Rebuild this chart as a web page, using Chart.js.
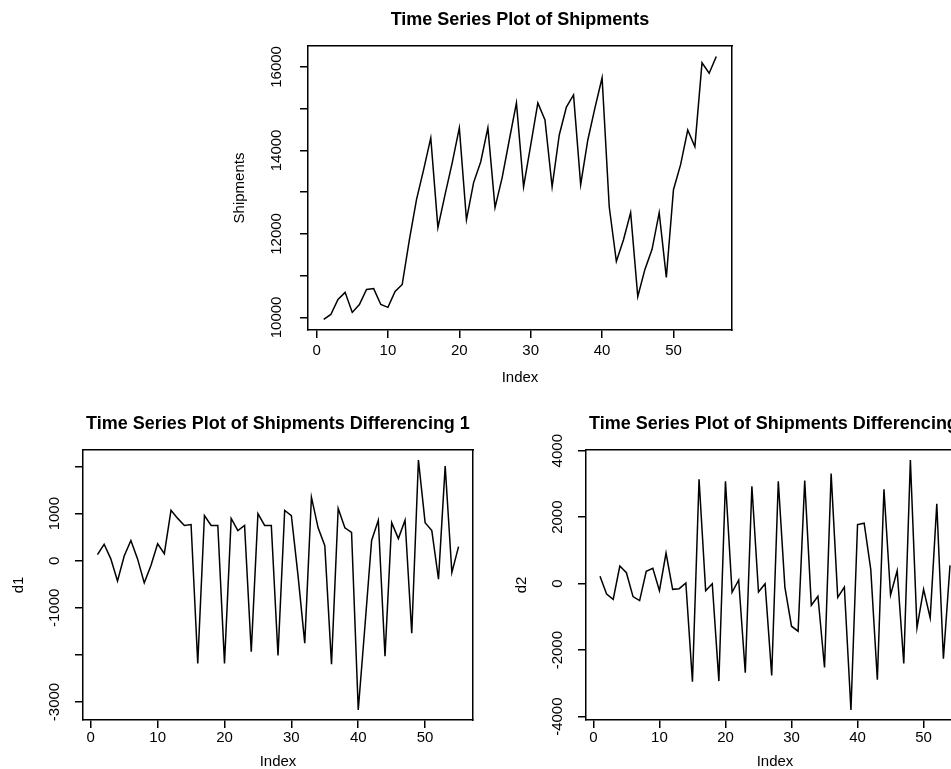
<!DOCTYPE html>
<html>
<head>
<meta charset="utf-8">
<script src="https://cdn.jsdelivr.net/npm/chart.js@4"></script>
<style>
  html, body { margin: 0; padding: 0; background: #fff; overflow: hidden; width: 951px; height: 769px; }
  #page { position: relative; width: 1100px; height: 769px; }
  canvas { position: absolute; }
</style>
</head>
<body>
<div id="page">
  <canvas id="chart-top" width="640" height="400" style="left:200px;top:0px"></canvas>
  <canvas id="chart-d1" width="556" height="380" style="left:0px;top:400px"></canvas>
  <canvas id="chart-d2" width="556" height="380" style="left:503px;top:400px"></canvas>
</div>
<script>
// Data

const seriesName = "Shipments"

const shipments = [
  9950, 10070, 10430, 10600, 10120, 10310, 10670, 10690, 10310, 10240,
  10620, 10790, 11860, 12820, 13540, 14300, 12150, 12940, 13700, 14540,
  12340, 13230, 13730, 14540, 12630, 13350, 14250, 15140, 13130, 14130,
  15140, 14730, 13130, 14370, 15040, 15330, 13180, 14250, 15020, 15740,
  12650, 11340, 11860, 12510, 10500, 11150, 11630, 12510, 10960, 13060,
  13660, 14490, 14090, 16100, 15850, 16250
]

const diff1 = [
  130, 350, 40, -430, 100, 430, 40, -470, -100, 360,
  150, 1070, 900, 750, 770, -2180, 960, 750, 750, -2180,
  900, 640, 750, -1930, 1000, 750, 750, -2010, 1070, 960,
  -320, -1750, 1350, 700, 320, -2200, 1110, 700, 600, -3170,
  -1390, 430, 860, -2030, 810, 470, 860, -1540, 2140, 810,
  640, -390, 2010, -250, 300
]

const diff2 = [
  220, -310, -470, 530, 330, -390, -510, 370, 460, -210,
  920, -170, -150, 20, -2950, 3140, -210, 0, -2930, 3080,
  -260, 110, -2680, 2930, -250, 0, -2760, 3080, -110, -1280,
  -1430, 3100, -650, -380, -2520, 3310, -410, -100, -3800, 1780,
  1820, 430, -2890, 2840, -340, 390, -2400, 3720, -1330, -170,
  -1030, 2400, -2260, 550
]

const xTicks = [0, 10, 20, 30, 40, 50]
const shipTicks = [10000, 11000, 12000, 13000, 14000, 15000, 16000]
const shipTickLabels = [10000, 12000, 14000, 16000]
const diff1Ticks = [-3000, -2000, -1000, 0, 1000, 2000]
const diff1TickLabels = [-3000, -1000, 0, 1000]
const diff2Ticks = [-4000, -2000, 0, 2000, 4000]
const diff2TickLabels = [-4000, -2000, 0, 2000, 4000]

Chart.defaults.font.family = "'Liberation Sans', Arial, sans-serif"
Chart.defaults.font.size = 15
Chart.defaults.color = "#000"

// R pads the data range by 4% on each side
const rRange = (lo, hi) => {
    const d = (hi - lo) * 0.04
    return [lo - d, hi + d]
}

function tsPlot(id, values, o) {
    const [xMin, xMax] = rRange(1, values.length)
    const [yMin, yMax] = rRange(Math.min(...values), Math.max(...values))
    const frame = { display: true, color: "#000", width: 1.5 }
    const tickGrid = { drawOnChartArea: false, tickLength: 8, tickColor: "#000", tickWidth: 1.5, lineWidth: 1.5, color: "#000" }

    return new Chart(document.getElementById(id), {
        type: "line",
        data: {
            datasets: [{
                data: values.map((v, i) => ({ x: i + 1, y: v })),
                borderColor: "#000",
                borderWidth: 1.5,
                pointRadius: 0,
                tension: 0
            }]
        },
        options: {
            responsive: false,
            animation: false,
            layout: { padding: 0 },
            plugins: {
                legend: { display: false },
                tooltip: { enabled: false },
                title: {
                    display: true,
                    text: o.title,
                    color: "#000",
                    font: { size: 18, weight: "bold" },
                    padding: { top: o.titleTop, bottom: 15.2 }
                }
            },
            scales: {
                x: {
                    type: "linear",
                    min: xMin,
                    max: xMax,
                    afterBuildTicks: s => { s.ticks = xTicks.map(v => ({ value: v })) },
                    afterFit: s => { s.height = o.xHeight },
                    ticks: { autoSkip: false, maxRotation: 0, padding: o.xLabelPad, callback: v => String(v) },
                    grid: tickGrid,
                    border: frame,
                    title: { display: true, text: "Index", padding: { top: 0, bottom: o.xTitlePad } }
                },
                y: {
                    type: "linear",
                    min: yMin,
                    max: yMax,
                    afterBuildTicks: s => { s.ticks = o.yTicks.map(v => ({ value: v })) },
                    afterFit: s => { s.width = o.yWidth },
                    ticks: {
                        autoSkip: false, minRotation: 90, maxRotation: 90, crossAlign: "center",
                        padding: o.yLabelPad,
                        callback: v => o.yLabels.includes(v) ? String(v) : ""
                    },
                    grid: tickGrid,
                    border: frame,
                    title: { display: true, text: o.yTitle, padding: { top: o.yTitlePad, bottom: 0 } }
                },
                xTop: {
                    type: "linear", axis: "x", position: "top",
                    ticks: { display: false },
                    grid: { drawOnChartArea: false, drawTicks: false },
                    border: frame,
                    afterFit: s => { s.height = 0 }
                },
                yRight: {
                    type: "linear", axis: "y", position: "right",
                    ticks: { display: false },
                    grid: { drawOnChartArea: false, drawTicks: false },
                    border: frame,
                    afterFit: s => { s.width = o.rightMargin }
                }
            }
        }
    })
}

tsPlot("chart-top", shipments, {
    title: `Time Series Plot of ${seriesName}`,
    yTitle: seriesName,
    yTicks: shipTicks, yLabels: shipTickLabels,
    rightMargin: 108, titleTop: 9.2, xHeight: 70, xLabelPad: 4, xTitlePad: 13,
    yWidth: 108, yLabelPad: 2, yTitlePad: 31
})

tsPlot("chart-d1", diff1, {
    title: `Time Series Plot of ${seriesName} Differencing 1`,
    yTitle: "d1",
    yTicks: diff1Ticks, yLabels: diff1TickLabels,
    rightMargin: 83, titleTop: 13.2, xHeight: 60, xLabelPad: 1, xTitlePad: 9,
    yWidth: 83, yLabelPad: 1, yTitlePad: 10
})

tsPlot("chart-d2", diff2, {
    title: `Time Series Plot of ${seriesName} Differencing 2`,
    yTitle: "d2",
    yTicks: diff2Ticks, yLabels: diff2TickLabels,
    rightMargin: 95, titleTop: 13.2, xHeight: 60, xLabelPad: 1, xTitlePad: 9,
    yWidth: 83, yLabelPad: 1, yTitlePad: 10
})
</script>
</body>
</html>
